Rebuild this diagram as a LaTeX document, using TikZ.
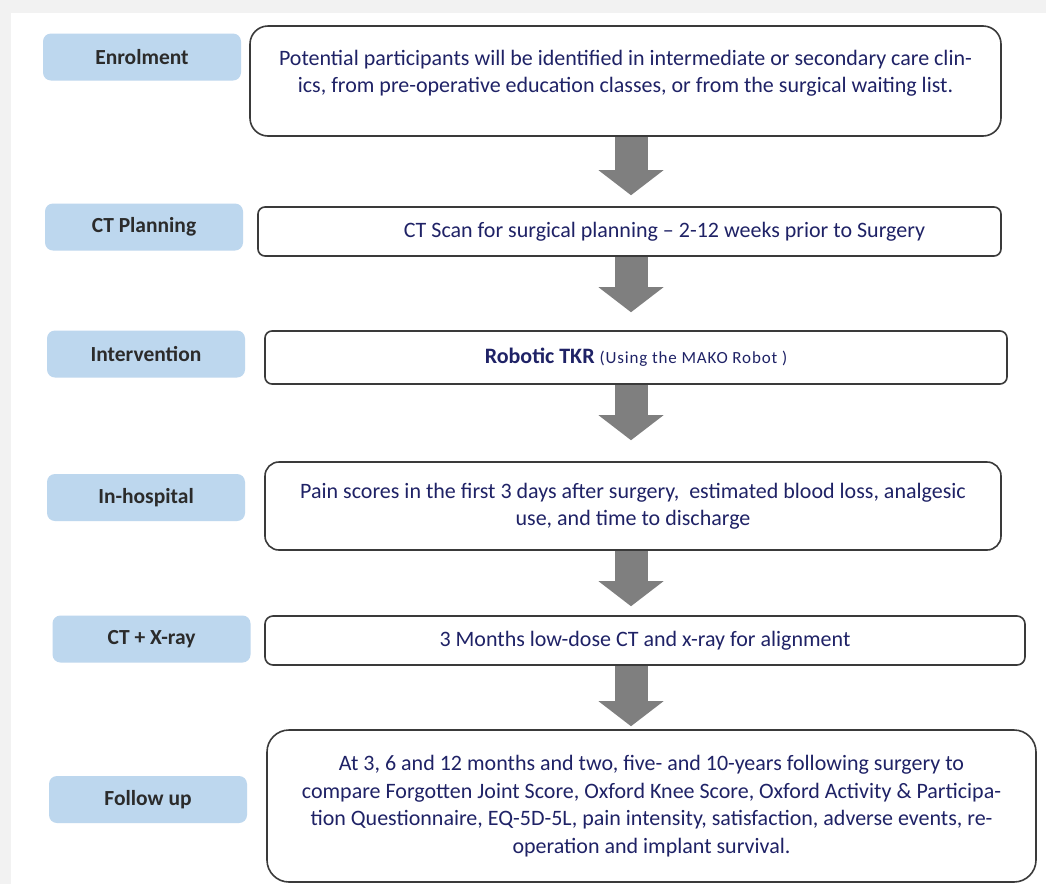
\documentclass[tikz,border=0pt]{standalone}
\usepackage{fontspec}
\setmainfont{Carlito}
\usetikzlibrary{arrows.meta,positioning}
\definecolor{pagegray}{HTML}{F2F2F2}
\definecolor{lblfill}{HTML}{BDD7EE}
\definecolor{lbltxt}{HTML}{2B2B2B}
\definecolor{txtblue}{HTML}{1F2266}
\definecolor{boxline}{HTML}{3A3A3A}
\definecolor{arrowgray}{HTML}{7F7F7F}

\begin{document}
\begin{tikzpicture}[x=1pt, y=-1pt,
        stage/.style={fill=lblfill, rounded corners=8pt, minimum width=198pt, minimum height=47pt, text=lbltxt, font=\fontsize{21.5}{24}\selectfont\bfseries},
        info/.style={draw=boxline, line width=1.6pt, fill=white, rounded corners=7pt, align=center, text=txtblue, font=\fontsize{22}{27.5}\selectfont},
        flow/.style={draw=arrowgray, line width=33pt, -{Triangle[width=65pt, length=25pt, line width=0pt]}}]
        \fill[pagegray] (0,0) rectangle (1046,884);
        \fill[white] (11,13) rectangle (1046,884);
        \useasboundingbox (0,0) rectangle (1046,884);

        \node[stage] (enr) at (142,57) {Enrolment};
        \node[stage] (ctp) at (144,227) {CT Planning};
        \node[stage] (int) at (146,354) {Intervention};
        \node[stage] (hosp) at (146,497.5) {In-hospital};
        \node[stage] (xray) at (151.5,639) {CT + X-ray};
        \node[stage] (fol) at (148,799.5) {Follow up};

        \node[info, minimum width=751pt, minimum height=110pt, rounded corners=18pt] (enrbox) at (625.5,81)
            {Potential participants will be identified in intermediate or secondary care clin-\\ics, from pre-operative education classes, or from the surgical waiting list.\\[-8pt]\mbox{}};
        \node[info, minimum width=743pt, minimum height=49pt] (ctpbox) at (629.5,231.5)
            {\hspace*{70pt}CT Scan for surgical planning -- 2-12 weeks prior to Surgery};
        \node[info, minimum width=742pt, minimum height=53pt] (intbox) at (636,357.5)
            {\textbf{Robotic TKR} {\fontsize{17}{20}\selectfont\addfontfeature{LetterSpace=5}(Using the MAKO Robot )}};
        \node[info, minimum width=736pt, minimum height=88pt, rounded corners=14pt] (hospbox) at (633,506)
            {Pain scores in the first 3 days after surgery,\ \ estimated blood loss, analgesic\\use, and time to discharge};
        \node[info, minimum width=760pt, minimum height=49pt, rounded corners=8pt] (xraybox) at (645,640.5)
            {3 Months low-dose CT and x-ray for alignment};
        \node[info, minimum width=769pt, minimum height=152pt, rounded corners=22pt] (folbox) at (651.5,806)
            {At 3, 6 and 12 months and two, five- and 10-years following surgery to\\compare Forgotten Joint Score, Oxford Knee Score, Oxford Activity \& Participa-\\tion Questionnaire, EQ-5D-5L, pain intensity, satisfaction, adverse events, re-\\operation and implant survival.};

        % block arrows down the middle
        \coordinate (ax) at (631,0);
        \draw[flow, shorten >=11pt] (enrbox.south -| ax) -- (ctpbox.north -| ax);
        \draw[flow, shorten >=18pt] (ctpbox.south -| ax) -- (intbox.north -| ax);
        \draw[flow, shorten >=21pt] (intbox.south -| ax) -- (hospbox.north -| ax);
        \draw[flow, shorten >=9pt] (hospbox.south -| ax) -- (xraybox.north -| ax);
        \draw[flow, shorten >=3pt] (xraybox.south -| ax) -- (folbox.north -| ax);
    \end{tikzpicture}
\end{document}
